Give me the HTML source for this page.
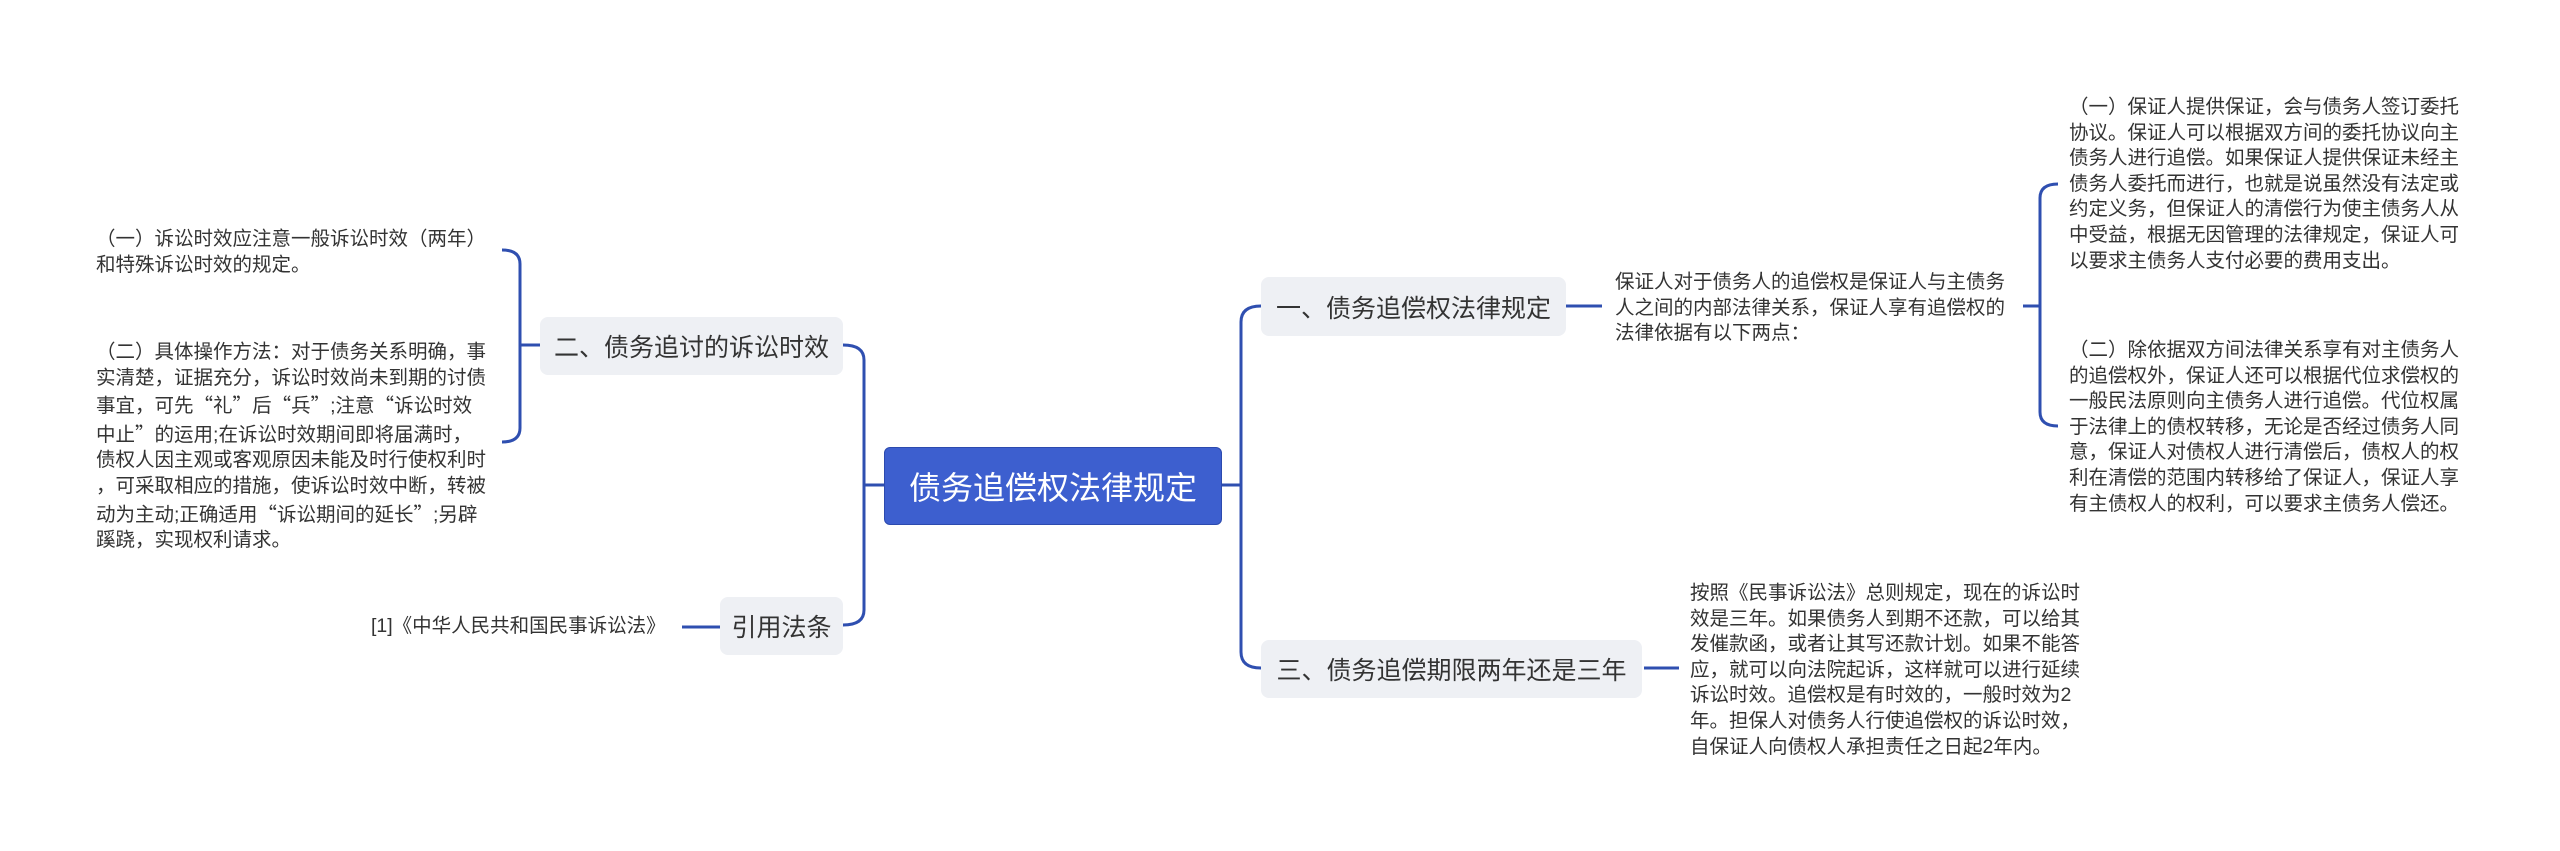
<!DOCTYPE html>
<html><head><meta charset="utf-8"><style>
html,body{margin:0;padding:0;background:#fff;}
body{width:2560px;height:851px;position:relative;overflow:hidden;font-family:"Liberation Sans","Noto Sans CJK SC",sans-serif;color:#333;}
.t{position:absolute;font-size:19.5px;line-height:25.6px;white-space:nowrap;}
.q{font-family:"Noto Sans CJK SC",sans-serif;}
.b{position:absolute;background:#eef0f4;border-radius:8px;display:flex;align-items:center;justify-content:center;font-size:25px;color:#333;white-space:nowrap;}
.c{position:absolute;left:884px;top:447px;width:336px;height:76px;background:#3d5fcf;border:1px solid #2c4aae;border-radius:6px;display:flex;align-items:center;justify-content:center;color:#fff;font-size:32px;}
svg{position:absolute;left:0;top:0;}
</style></head><body>
<svg width="2560" height="851" fill="none" stroke="#2f4fb0" stroke-width="3">
<path d="M540,345 L520,345"/>
<path d="M502,250 Q520,250 520,264 L520,428 Q520,442 502,442"/>
<path d="M843,345 Q864,345 864,360 L864,610 Q864,625 843,625"/>
<path d="M864,485 L884,485"/>
<path d="M682,627 L720,627"/>
<path d="M1222,485 L1241,485"/>
<path d="M1261,306 Q1241,306 1241,322 L1241,652 Q1241,668 1261,668"/>
<path d="M1566,306 L1602,306"/>
<path d="M2023,306 L2040,306"/>
<path d="M2058,184 Q2040,184 2040,198 L2040,412 Q2040,426 2058,426"/>
<path d="M1644,668 L1679,668"/>
</svg>
<div class="t" style="left:96px;top:227px;">（一）诉讼时效应注意一般诉讼时效（两年）<br>和特殊诉讼时效的规定。</div>
<div class="t" style="left:96px;top:340px;">（二）具体操作方法：对于债务关系明确，事<br>实清楚，证据充分，诉讼时效尚未到期的讨债<br>事宜，可先<span class="q">“</span>礼<span class="q">”</span>后<span class="q">“</span>兵<span class="q">”</span>;注意<span class="q">“</span>诉讼时效<br>中止<span class="q">”</span>的运用;在诉讼时效期间即将届满时，<br>债权人因主观或客观原因未能及时行使权利时<br>，可采取相应的措施，使诉讼时效中断，转被<br>动为主动;正确适用<span class="q">“</span>诉讼期间的延长<span class="q">”</span>;另辟<br>蹊跷，实现权利请求。</div>
<div class="t" style="left:371px;top:614px;">[1]《中华人民共和国民事诉讼法》</div>
<div class="b" style="left:540px;top:317px;width:303px;height:58px;">二、债务追讨的诉讼时效</div>
<div class="b" style="left:720px;top:597px;width:123px;height:58px;">引用法条</div>
<div class="c">债务追偿权法律规定</div>
<div class="b" style="left:1261px;top:277px;width:305px;height:59px;">一、债务追偿权法律规定</div>
<div class="b" style="left:1261px;top:640px;width:381px;height:58px;">三、债务追偿期限两年还是三年</div>
<div class="t" style="left:1615px;top:270px;">保证人对于债务人的追偿权是保证人与主债务<br>人之间的内部法律关系，保证人享有追偿权的<br>法律依据有以下两点：</div>
<div class="t" style="left:2069px;top:95px;">（一）保证人提供保证，会与债务人签订委托<br>协议。保证人可以根据双方间的委托协议向主<br>债务人进行追偿。如果保证人提供保证未经主<br>债务人委托而进行，也就是说虽然没有法定或<br>约定义务，但保证人的清偿行为使主债务人从<br>中受益，根据无因管理的法律规定，保证人可<br>以要求主债务人支付必要的费用支出。</div>
<div class="t" style="left:2069px;top:338px;">（二）除依据双方间法律关系享有对主债务人<br>的追偿权外，保证人还可以根据代位求偿权的<br>一般民法原则向主债务人进行追偿。代位权属<br>于法律上的债权转移，无论是否经过债务人同<br>意，保证人对债权人进行清偿后，债权人的权<br>利在清偿的范围内转移给了保证人，保证人享<br>有主债权人的权利，可以要求主债务人偿还。</div>
<div class="t" style="left:1690px;top:581px;">按照《民事诉讼法》总则规定，现在的诉讼时<br>效是三年。如果债务人到期不还款，可以给其<br>发催款函，或者让其写还款计划。如果不能答<br>应，就可以向法院起诉，这样就可以进行延续<br>诉讼时效。追偿权是有时效的，一般时效为2<br>年。担保人对债务人行使追偿权的诉讼时效，<br>自保证人向债权人承担责任之日起2年内。</div>
</body></html>
